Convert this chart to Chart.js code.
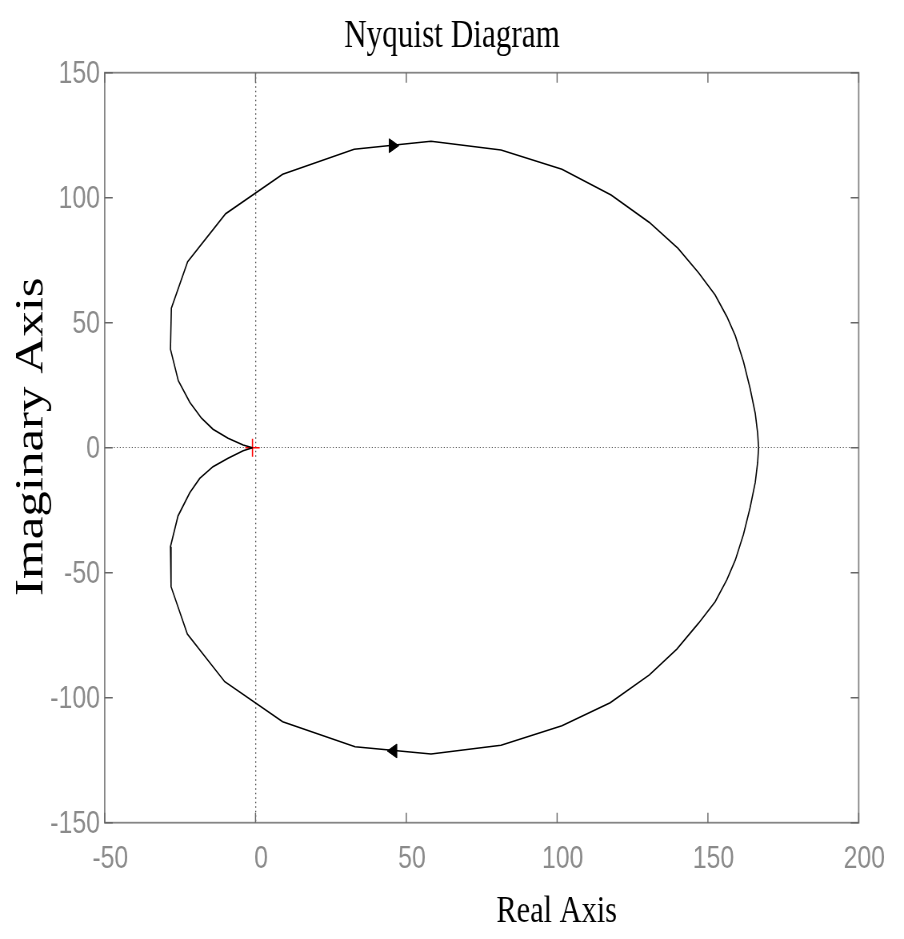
<!DOCTYPE html>
<html>
<head>
<meta charset="utf-8">
<title>Nyquist Diagram</title>
<script src="https://cdn.jsdelivr.net/npm/chart.js@4.4.1/dist/chart.umd.min.js"></script>
<style>
    html, body { margin: 0; padding: 0; background: #fff; }
    #nyquist { display: block; }
</style>
</head>
<body>
<!-- canvas is drawn wider and squeezed: the source figure is horizontally compressed -->
<canvas id="nyquist" width="1130" height="939" style="width:904px;height:939px"></canvas>
<script>
// Nyquist curve, upper branch (real, imaginary)
const upperRe = [-1, -4.1, -9.1, -14.1, -17.9, -21.8, -25.6, -28.2, -27.9, -22.5, -9.9, 9.0, 32.7, 58.2,
    81.4, 101.6, 117.9, 130.6, 140.1, 146.9, 152.4, 156.3, 159.1, 161.8, 164.0, 165.7, 166.5, 166.8];
const upperIm = [0, 1.1, 3.8, 7.4, 11.8, 18.2, 26.8, 39.4, 55.8, 74.4, 93.6, 109.4, 119.4, 122.6,
    119.1, 111.4, 101.1, 90.1, 79.7, 70.0, 61.1, 52.4, 44.7, 34.4, 23.7, 13.7, 5.7, 0];

// Nyquist curve, lower branch (real, imaginary)
const lowerRe = [-1, -4.1, -9.1, -14.1, -18.5, -21.8, -25.7, -28.2, -28.0, -22.6, -10.2, 9.0, 33.0, 58.2,
    81.4, 101.6, 117.6, 130.6, 139.7, 146.9, 152.4, 156.3, 159.1, 161.8, 164.0, 165.7, 166.5, 166.8];
const lowerIm = [0, -1.2, -4.2, -7.6, -12.3, -18.0, -27.3, -39.6, -55.6, -74.5, -93.6, -109.6, -119.6, -122.5,
    -119.0, -111.2, -102.0, -90.9, -80.6, -70.2, -61.6, -52.8, -44.9, -34.6, -23.9, -13.9, -5.8, 0];

// direction arrows on the curve
const arrowRe = [45.4, 45.8];
const arrowIm = [120.8, -121.3];
const arrowAngle = [90, -90];

// critical point -1 + 0j
const critRe = [-1];
const critIm = [0];

// axis ticks
const xTickValues = [-50, 0, 50, 100, 150, 200];
const yTickValues = [-150, -100, -50, 0, 50, 100, 150];

const titleText = 'Nyquist Diagram';
const xAxisLabel = 'Real Axis';
const yAxisLabel = 'Imaginary Axis';

const serifFont = "'Liberation Serif', 'Times New Roman', serif";
const tickFont = "'Liberation Sans Narrow', 'Liberation Sans', Arial, sans-serif";

function toPoints(re, im) {
    return re.map((value, index) => ({ x: value, y: im[index] }));
}

function zeroLineColor(ctx) {
    return ctx.tick && ctx.tick.value === 0 ? '#505050' : 'rgba(0,0,0,0)';
}

// Box round the axes with inward ticks on all four sides
const matlabBox = {
    id: 'matlabBox',
    beforeDatasetsDraw(chart) {
        const { ctx, chartArea: a, scales } = chart;
        ctx.save();
        ctx.strokeStyle = '#858585';
        ctx.lineWidth = 1.8;
        ctx.strokeRect(a.left, a.top, a.right - a.left, a.bottom - a.top);
        ctx.strokeStyle = '#666';
        ctx.lineWidth = 1.4;
        ctx.beginPath();
        xTickValues.forEach(v => {
            const px = scales.x.getPixelForValue(v);
            ctx.moveTo(px, a.bottom);
            ctx.lineTo(px, a.bottom - 10);
            ctx.moveTo(px, a.top);
            ctx.lineTo(px, a.top + 10);
        });
        yTickValues.forEach(v => {
            const py = scales.y.getPixelForValue(v);
            ctx.moveTo(a.left, py);
            ctx.lineTo(a.left + 10, py);
            ctx.moveTo(a.right, py);
            ctx.lineTo(a.right - 10, py);
        });
        ctx.stroke();
        ctx.restore();
    }
};

// Axis labels sit off-centre in the source figure, so they are placed here
const axisLabels = {
    id: 'axisLabels',
    afterDraw(chart) {
        const { ctx, chartArea: a } = chart;
        ctx.save();
        ctx.fillStyle = '#000';
        ctx.textAlign = 'center';
        ctx.textBaseline = 'alphabetic';
        ctx.font = `38px ${serifFont}`;
        ctx.fillText(xAxisLabel, a.left + (a.right - a.left) * 0.5995, a.bottom + 99);
        ctx.translate(53.4, a.top + (a.bottom - a.top) * 0.4853);
        ctx.rotate(-Math.PI / 2);
        ctx.font = `51px ${serifFont}`;
        ctx.fillText(yAxisLabel, 0, 0);
        ctx.restore();
    }
};

const canvas = document.getElementById('nyquist');
const nyquistChart = new Chart(canvas.getContext('2d'), {
    type: 'scatter',
    data: {
        datasets: [
            {
                label: 'upper',
                data: toPoints(upperRe, upperIm),
                showLine: true,
                borderColor: '#000',
                borderWidth: 1.6,
                pointRadius: 0
            },
            {
                label: 'lower',
                data: toPoints(lowerRe, lowerIm),
                showLine: true,
                borderColor: '#000',
                borderWidth: 1.6,
                pointRadius: 0
            },
            {
                label: 'arrows',
                data: toPoints(arrowRe, arrowIm),
                pointStyle: 'triangle',
                pointRotation: arrowAngle,
                pointRadius: 8,
                backgroundColor: '#000',
                borderColor: '#000',
                borderWidth: 1
            },
            {
                label: 'critical point',
                data: toPoints(critRe, critIm),
                pointStyle: 'cross',
                pointRadius: 9,
                borderColor: '#ff0000',
                borderWidth: 1.6
            }
        ]
    },
    options: {
        responsive: false,
        animation: false,
        events: [],
        layout: { padding: 0 },
        plugins: {
            legend: { display: false },
            tooltip: { enabled: false },
            title: {
                display: true,
                text: titleText,
                color: '#000',
                font: { family: serifFont, size: 39, weight: 'normal' },
                padding: { top: 13.4, bottom: 12.5 }
            }
        },
        scales: {
            x: {
                type: 'linear',
                min: -50,
                max: 200,
                afterBuildTicks: scale => { scale.ticks = xTickValues.map(v => ({ value: v })); },
                afterFit: scale => { scale.height = 116.3; },
                grid: { drawTicks: false, color: zeroLineColor, lineWidth: 1.3 },
                border: { display: false, dash: [1.5, 3] },
                ticks: {
                    color: '#8a8a8a',
                    font: { family: tickFont, size: 31 },
                    padding: 17.7,
                    labelOffset: 7,
                    maxRotation: 0,
                    autoSkip: false
                }
            },
            y: {
                type: 'linear',
                min: -150,
                max: 150,
                afterBuildTicks: scale => { scale.ticks = yTickValues.map(v => ({ value: v })); },
                afterFit: scale => { scale.width = 130.9; },
                grid: { drawTicks: false, color: zeroLineColor, lineWidth: 1 },
                border: { display: false, dash: [1.25, 2.5] },
                ticks: {
                    color: '#8a8a8a',
                    font: { family: tickFont, size: 31 },
                    padding: 6,
                    labelOffset: 2,
                    autoSkip: false
                }
            },
            // empty right-hand axis, only keeps the margin on the right
            yRight: {
                type: 'linear',
                position: 'right',
                min: -150,
                max: 150,
                afterFit: scale => { scale.width = 56.6; },
                grid: { display: false, drawTicks: false },
                border: { display: false },
                ticks: { display: false }
            }
        }
    },
    plugins: [matlabBox, axisLabels]
});
</script>
</body>
</html>
